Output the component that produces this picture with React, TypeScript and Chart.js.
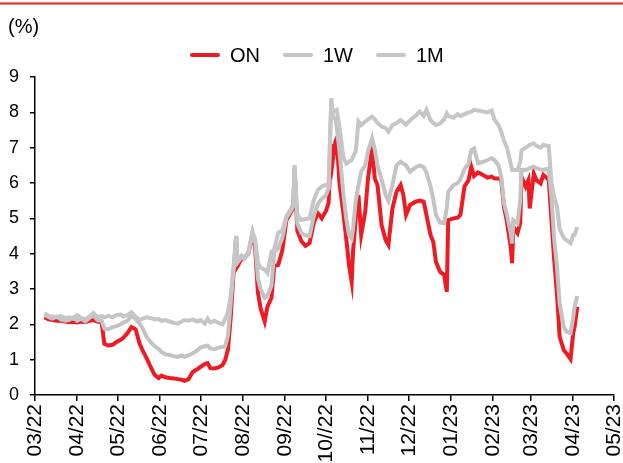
import { useEffect, useRef } from "react";
import { Chart, registerables } from "chart.js";

Chart.register(...registerables);

// Daily fixing dates (sampled), one row per month
const dates = [
  "2022-03-08", "2022-03-11", "2022-03-14", "2022-03-17", "2022-03-20", "2022-03-23", "2022-03-26", "2022-03-29",
  "2022-04-01", "2022-04-04", "2022-04-07", "2022-04-10", "2022-04-13", "2022-04-16", "2022-04-19", "2022-04-21", "2022-04-24", "2022-04-27", "2022-04-30",
  "2022-05-03", "2022-05-05", "2022-05-08", "2022-05-11", "2022-05-14", "2022-05-17", "2022-05-19", "2022-05-22", "2022-05-25", "2022-05-28", "2022-05-31",
  "2022-06-02", "2022-06-05", "2022-06-08", "2022-06-11", "2022-06-14", "2022-06-17", "2022-06-19", "2022-06-22", "2022-06-25", "2022-06-28",
  "2022-07-01", "2022-07-04", "2022-07-06", "2022-07-08", "2022-07-11", "2022-07-14", "2022-07-17", "2022-07-19", "2022-07-21", "2022-07-23", "2022-07-25", "2022-07-27", "2022-07-28", "2022-07-31",
  "2022-08-02", "2022-08-05", "2022-08-08", "2022-08-10", "2022-08-12", "2022-08-14", "2022-08-17", "2022-08-19", "2022-08-22", "2022-08-24", "2022-08-27", "2022-08-30",
  "2022-09-02", "2022-09-05", "2022-09-07", "2022-09-08", "2022-09-10", "2022-09-13", "2022-09-16", "2022-09-19", "2022-09-22", "2022-09-25", "2022-09-28",
  "2022-10-01", "2022-10-03", "2022-10-05", "2022-10-06", "2022-10-08", "2022-10-09", "2022-10-11", "2022-10-14", "2022-10-16", "2022-10-18", "2022-10-20", "2022-10-21", "2022-10-23", "2022-10-25", "2022-10-27", "2022-10-30",
  "2022-11-01", "2022-11-04", "2022-11-06", "2022-11-08", "2022-11-11", "2022-11-14", "2022-11-16", "2022-11-19", "2022-11-22", "2022-11-25", "2022-11-27", "2022-11-29",
  "2022-12-02", "2022-12-06", "2022-12-09", "2022-12-12", "2022-12-14", "2022-12-17", "2022-12-19", "2022-12-21", "2022-12-24", "2022-12-27", "2022-12-29", "2022-12-30",
  "2023-01-03", "2023-01-06", "2023-01-08", "2023-01-11", "2023-01-14", "2023-01-16", "2023-01-18", "2023-01-21", "2023-01-25", "2023-01-28", "2023-01-31",
  "2023-02-02", "2023-02-05", "2023-02-07", "2023-02-09", "2023-02-11", "2023-02-14", "2023-02-15", "2023-02-16", "2023-02-19", "2023-02-21", "2023-02-22", "2023-02-25", "2023-02-27", "2023-02-28",
  "2023-03-03", "2023-03-05", "2023-03-08", "2023-03-10", "2023-03-13", "2023-03-14", "2023-03-16", "2023-03-18", "2023-03-20", "2023-03-22", "2023-03-25", "2023-03-27", "2023-03-30",
  "2023-04-01", "2023-04-02", "2023-04-04",
];

// Overnight rate (%)
const onRates = [
  2.2, 2.14, 2.12, 2.1, 2.1, 2.08, 2.06, 2.07,
  2.05, 2.08, 2.06, 2.1, 2.12, 2.08, 2.06, 1.45, 1.4, 1.42, 1.5,
  1.56, 1.62, 1.75, 1.92, 1.86, 1.45, 1.28, 1.05, 0.8, 0.57, 0.48,
  0.55, 0.5, 0.48, 0.47, 0.45, 0.43, 0.4, 0.45, 0.65, 0.72,
  0.8, 0.88, 0.9, 0.76, 0.75, 0.78, 0.85, 1.0, 1.3, 2.2, 3.4, 4.48, 3.65, 3.85,
  3.9, 4.0, 4.55, 4.15, 2.9, 2.45, 2.08, 2.5, 2.75, 3.65, 3.68, 4.1,
  4.95, 5.15, 5.3, 6.4, 4.65, 4.35, 4.22, 4.3, 4.85, 5.15, 5.0,
  5.2, 5.43, 7.1, 6.6, 7.17, 7.26, 6.0, 5.1, 4.43, 3.68, 3.2, 4.06, 5.0, 5.66, 4.53, 5.19,
  6.13, 6.98, 6.13, 5.94, 4.81, 4.38, 4.25, 5.28, 5.75, 5.94, 5.66, 5.1,
  5.38, 5.47, 5.5, 5.47, 5.1, 4.53, 4.34, 3.77, 3.49, 3.4, 2.92, 4.95,
  5.0, 5.02, 5.1, 5.9, 6.08, 6.46, 6.2, 6.3, 6.22, 6.15, 6.18,
  6.13, 6.13, 6.1, 5.33, 4.95, 4.2, 3.73, 4.76, 4.58, 4.86, 6.18, 5.9, 6.08, 5.28,
  6.27, 6.08, 5.99, 6.23, 6.13, 6.08, 4.95, 3.82, 2.88, 1.65, 1.27, 1.18, 1.02,
  1.75, 1.93, 2.5,
];

// One-week rate (%)
const oneWeekRates = [
  2.28, 2.2, 2.16, 2.22, 2.14, 2.1, 2.12, 2.2,
  2.1, 2.16, 2.08, 2.18, 2.26, 2.12, 2.1, 1.88, 1.86, 1.92, 1.95,
  2.0, 2.05, 2.1, 2.24, 2.15, 2.02, 1.9, 1.65, 1.5, 1.38, 1.3,
  1.22, 1.15, 1.13, 1.1, 1.08, 1.12, 1.08, 1.12, 1.18, 1.25,
  1.35, 1.38, 1.4, 1.32, 1.3, 1.34, 1.36, 1.38, 1.7, 2.6, 3.5, 4.5, 3.75, 3.9,
  3.85, 4.0, 4.58, 4.3, 3.3, 3.0, 2.75, 2.8, 3.1, 4.05, 4.15, 4.45,
  5.02, 5.2, 5.35, 6.5, 4.85, 4.58, 4.52, 4.5, 5.05, 5.4, 5.55,
  5.65, 5.85, 8.35, 7.9, 7.8, 7.6, 6.9, 5.66, 5.0, 4.53, 4.43, 4.7, 5.5, 5.94, 6.32, 6.5,
  6.9, 7.26, 6.95, 6.5, 6.1, 5.66, 5.5, 5.95, 6.5, 6.6, 6.55, 6.5,
  6.32, 6.45, 6.5, 6.45, 6.3, 5.9, 5.55, 5.1, 4.88, 4.86, 5.3, 5.75,
  5.94, 6.0, 6.1, 6.4, 6.55, 6.93, 6.98, 6.56, 6.6, 6.65, 6.7,
  6.65, 6.5, 6.18, 5.43, 5.14, 4.58, 4.29, 4.95, 4.86, 5.5, 6.37, 6.37, 6.4, 6.42,
  6.46, 6.42, 6.38, 6.37, 6.4, 6.35, 5.6, 4.4, 3.65, 2.6, 1.93, 1.79, 1.75,
  2.2, 2.5, 2.8,
];

// One-month rate (%)
const oneMonthRates = [
  2.32, 2.24, 2.22, 2.2, 2.24, 2.18, 2.2, 2.16,
  2.26, 2.18, 2.14, 2.22, 2.32, 2.2, 2.24, 2.2, 2.24, 2.2, 2.26,
  2.28, 2.22, 2.26, 2.34, 2.22, 2.12, 2.16, 2.2, 2.18, 2.14, 2.15,
  2.1, 2.12, 2.08, 2.04, 2.02, 2.08, 2.12, 2.1, 2.14, 2.08,
  2.12, 2.02, 2.16, 2.05, 2.1, 2.04, 2.0, 2.16, 2.35, 2.8, 3.6, 4.5, 3.78, 3.95,
  3.88, 4.05, 4.62, 4.4, 3.75, 3.6, 3.55, 3.45, 4.05, 4.12, 4.6, 4.65,
  5.08, 5.25, 5.4, 6.5, 5.1, 4.95, 4.98, 5.0, 5.5, 5.8, 5.9,
  5.95, 5.9, 8.4, 8.0, 8.05, 8.07, 7.6, 6.7, 6.55, 6.6, 6.65, 6.75, 6.9, 7.74, 7.64, 7.74,
  7.8, 7.88, 7.8, 7.7, 7.6, 7.55, 7.45, 7.64, 7.7, 7.78, 7.72, 7.65,
  7.78, 7.9, 8.02, 7.9, 8.07, 7.78, 7.7, 7.64, 7.68, 7.8, 7.97, 7.9,
  7.85, 7.95, 7.9, 7.95, 8.0, 8.02, 8.07, 8.05, 8.02, 8.0, 8.05,
  7.8, 7.64, 7.45, 7.2, 7.03, 6.56, 6.37, 6.37, 6.37, 6.6, 6.93, 7.0, 7.05, 7.08,
  7.12, 7.05, 7.0, 7.08, 7.05, 7.05, 6.0, 5.6, 5.35, 4.7, 4.45, 4.38, 4.3,
  4.53, 4.53, 4.75,
];

const seriesNames = ["ON", "1W", "1M"];
const unitLabel = "(%)";

// Month starts used as x-axis ticks, with their labels
const monthStarts = [
  "2022-03-01", "2022-04-01", "2022-05-01", "2022-06-01", "2022-07-01", "2022-08-01", "2022-09-01",
  "2022-10-01", "2022-11-01", "2022-12-01", "2023-01-01", "2023-02-01", "2023-03-01", "2023-04-01", "2023-05-01",
];
const monthLabels = [
  "03/22", "04/22", "05/22", "06/22", "07/22", "08/22", "09/22",
  "10//22", "11/22", "12/22", "01/23", "02/23", "03/23", "04/23", "05/23",
];
const yMin = 0;
const yMax = 9;

const RED = "#ED1C24";
const GREY_1W = "#C3C3C3";
const GREY_1M = "#C6C6C6";
const FONT = "'Liberation Sans', Arial, sans-serif";

const DAY_MS = 86400000;
const ORIGIN = Date.UTC(2022, 2, 1);
const dayIndex = (iso: string) => {
  const [y, m, d] = iso.split("-").map(Number);
  return Math.round((Date.UTC(y, m - 1, d) - ORIGIN) / DAY_MS);
};

const toPoints = (values: number[]) =>
  dates.map((d, i) => ({ x: dayIndex(d), y: values[i] }));

// Header: red rule, unit label and a line-style legend
const headerPlugin = {
  id: "header",
  afterDraw(chart: any) {
    const ctx = chart.ctx as CanvasRenderingContext2D;
    ctx.save();
    ctx.strokeStyle = RED;
    ctx.lineWidth = 2;
    ctx.beginPath();
    ctx.moveTo(0, 3.5);
    ctx.lineTo(chart.width, 3.5);
    ctx.stroke();

    ctx.fillStyle = "#000";
    ctx.textBaseline = "middle";
    ctx.textAlign = "left";
    ctx.font = `20px ${FONT}`;
    ctx.fillText(unitLabel, 8, 27);

    const colors = chart.data.datasets.map((ds: any) => ds.borderColor);
    const marker = 30;
    const gap = 10;
    const itemGap = 23;
    ctx.font = `20px ${FONT}`;
    const widths = seriesNames.map((n) => ctx.measureText(n).width);
    let x = 190;
    const y = 55;
    seriesNames.forEach((name, i) => {
      ctx.strokeStyle = colors[i];
      ctx.lineWidth = 4;
      ctx.lineCap = "round";
      ctx.beginPath();
      ctx.moveTo(x + 2, y);
      ctx.lineTo(x + marker - 2, y);
      ctx.stroke();
      x += marker + gap;
      ctx.fillStyle = "#000";
      ctx.fillText(name, x, y + 1);
      x += widths[i] + itemGap;
    });
    ctx.restore();
  },
};

export default function App() {
  const canvasRef = useRef<HTMLCanvasElement | null>(null);

  useEffect(() => {
    const canvas = canvasRef.current;
    if (!canvas) return;
    const yTickFont = { family: FONT, size: 18 };
    const xTickFont = { family: FONT, size: 21 };
    const line = (label: string, values: number[], color: string, order: number) => ({
      label,
      data: toPoints(values),
      borderColor: color,
      borderWidth: 4,
      pointRadius: 0,
      tension: 0,
      order,
    });
    const chart = new Chart(canvas, {
      type: "line",
      data: {
        datasets: [
          line(seriesNames[0], onRates, RED, 2),
          line(seriesNames[1], oneWeekRates, GREY_1W, 1),
          line(seriesNames[2], oneMonthRates, GREY_1M, 0),
        ],
      },
      options: {
        responsive: false,
        animation: false,
        devicePixelRatio: 1,
        layout: { padding: { left: 0, top: 77, right: 9, bottom: 0 } },
        plugins: {
          legend: { display: false },
          tooltip: { enabled: false },
        },
        scales: {
          x: {
            type: "linear",
            min: dayIndex(monthStarts[0]),
            max: dayIndex(monthStarts[monthStarts.length - 1]),
            afterBuildTicks: (scale: any) => {
              scale.ticks = monthStarts.map((m) => ({ value: dayIndex(m) }));
            },
            afterFit: (scale: any) => {
              scale.height = 68;
              scale.paddingLeft = 0;
              scale.paddingRight = 0;
            },
            ticks: {
              autoSkip: false,
              minRotation: 90,
              maxRotation: 90,
              padding: 3,
              color: "#000",
              font: xTickFont,
              callback: (value: any) => {
                const idx = monthStarts.findIndex((m) => dayIndex(m) === value);
                return idx >= 0 ? monthLabels[idx] : "";
              },
            },
            grid: {
              display: true,
              drawOnChartArea: false,
              drawTicks: true,
              tickLength: 6,
              color: "#000",
              lineWidth: 1.5,
            },
            border: { display: true, color: "#000", width: 1.5 },
          },
          y: {
            min: yMin,
            max: yMax,
            afterFit: (scale: any) => {
              scale.width = 35;
            },
            ticks: {
              stepSize: 1,
              padding: 11,
              color: "#000",
              font: yTickFont,
            },
            grid: {
              display: true,
              drawOnChartArea: false,
              drawTicks: true,
              tickLength: 5,
              color: "#000",
              lineWidth: 1.5,
            },
            border: { display: true, color: "#000", width: 1.5 },
          },
        },
      },
      plugins: [headerPlugin],
    });
    return () => chart.destroy();
  }, []);

  return (
    <div style={{ position: "absolute", left: 0, top: 0, width: 623, height: 463, background: "#fff" }}>
      <canvas ref={canvasRef} width={623} height={463} style={{ width: 623, height: 463, display: "block" }} />
    </div>
  );
}
